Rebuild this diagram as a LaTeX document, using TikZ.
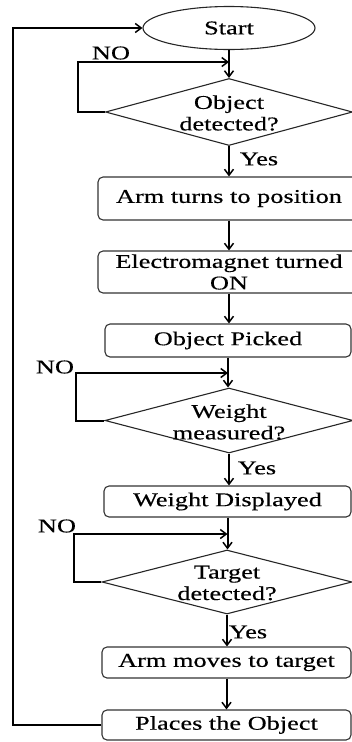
\documentclass[tikz,border=0pt]{standalone}
\usepackage{fontspec}
\setmainfont[FakeStretch=1.35,FakeBold=0.4]{Liberation Serif}
\usetikzlibrary{shapes.geometric,arrows.meta}
\begin{document}
\begin{tikzpicture}[x=1pt,y=-1pt,
  txt/.style={font=\fontsize{19.5}{21.5}\selectfont, align=center, inner sep=0pt},
  proc/.style={draw=black!80, line width=1.1pt, rounded corners=5pt, rectangle, txt},
  dia/.style={draw=black!85, line width=1.1pt, diamond, inner sep=0pt},
  conn/.style={line width=2pt, -{Straight Barb[length=6pt,width=9pt,line width=1.5pt]}},
  outer/.style={line width=2.3pt, -{Straight Barb[length=6pt,width=9pt,line width=1.5pt]}},
  lbl/.style={font=\fontsize{19.5}{21.5}\selectfont, inner sep=0pt}]
\clip (0,0) rectangle (352,742);
\useasboundingbox (0,0) rectangle (352,742);
% nodes
\node[draw=black!85, line width=1.1pt, ellipse, txt, minimum width=172pt, minimum height=43pt] (start) at (229,28) {Start};
\node[dia, minimum width=247pt, minimum height=67pt] (d1) at (229,112) {};
\node[txt] (d1t) at (229,113) {Object\\detected?};
\node[proc, minimum width=262pt, minimum height=43pt] (b1) at (229,198.5) {Arm turns to position};
\node[proc, minimum width=262pt, minimum height=42pt] (b2) at (229,272) {Electromagnet turned\\ON};
\node[proc, minimum width=246pt, minimum height=33pt] (b3) at (228,340.5) {Object Picked};
\node[dia, minimum width=248pt, minimum height=65pt] (d2) at (229,420.5) {};
\node[txt] (d2t) at (229,422) {Weight\\measured?};
\node[proc, minimum width=247pt, minimum height=31pt] (b4) at (227.5,501.5) {Weight Displayed};
\node[dia, minimum width=250pt, minimum height=64pt] (d3) at (227,582) {};
\node[txt] (d3t) at (227,583) {Target\\detected?};
\node[proc, minimum width=249pt, minimum height=31pt] (b5) at (226.5,662.5) {Arm moves to target};
\node[proc, minimum width=249pt, minimum height=30pt] (b6) at (226.5,725) {Places the Object};
% labels
\node[lbl] (no1) at (111,53) {NO};
\node[lbl] (no2) at (55,367) {NO};
\node[lbl] (no3) at (57,526) {NO};
\node[lbl] (y1) at (259,159) {Yes};
\node[lbl] (y2) at (257,468) {Yes};
\node[lbl] (y3) at (248,632) {Yes};
% main flow
\draw[conn] (start.south) -- (start.south |- d1.north);
\draw[conn] (d1.south) -- (d1.south |- b1.north);
\draw[conn] (b1.south) -- (b1.south |- b2.north);
\draw[conn] (b2.south) -- (b2.south |- b3.north);
\draw[conn] (b3.south) -- (b3.south |- d2.north);
\draw[conn] (d2.south) -- (d2.south |- b4.north);
\draw[conn] (b4.south) -- (b4.south |- d3.north);
\draw[conn] (d3.south) -- (d3.south |- b5.north);
\draw[conn] (b5.south) -- (b5.south |- b6.north);
% NO loops
\coordinate (l1) at (78,62);
\coordinate (l2) at (76,373);
\coordinate (l3) at (74,534);
\draw[conn] (d1.west) -| (l1) -- (l1 -| start.south);
\draw[conn] (d2.west) -| (l2) -- (l2 -| b3.south);
\draw[conn] (d3.west) -| (l3) -- (l3 -| b4.south);
% outer loop
\coordinate (o1) at (13,725);
\draw[outer] (b6.west) -- (o1) |- (start.west);
\end{tikzpicture}
\end{document}
